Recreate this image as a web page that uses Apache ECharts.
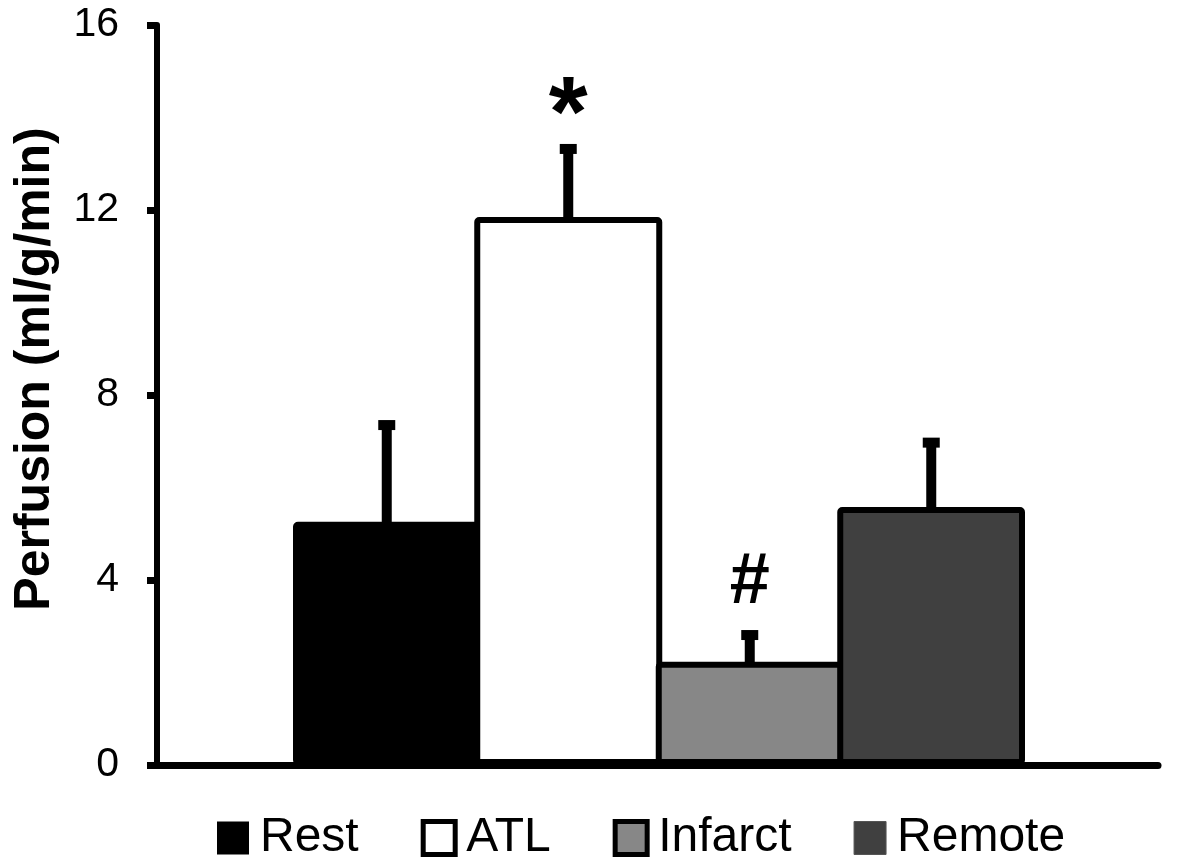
<!DOCTYPE html>
<html>
<head>
<meta charset="utf-8">
<script src="https://cdn.jsdelivr.net/npm/echarts@6/dist/echarts.min.js"></script>
<style>
html,body{margin:0;padding:0;background:#fff;}
#chart{width:1200px;height:857px;}
</style>
</head>
<body>
<div id="chart"></div>
<script>
// ---- data ----
const categories = ['Rest', 'ATL', 'Infarct', 'Remote'];
const means = [5.26, 11.85, 2.23, 5.58];
const errors = [2.09, 1.47, 0.58, 1.39];
const markers = ['', '*', '#', ''];
const yTicks = [0, 4, 8, 12, 16];
const yTitle = 'Perfusion (ml/g/min)';

// ---- styles ----
const fills = ['#000000', '#ffffff', '#878787', '#404040'];
const FONT = '"Liberation Sans", Arial, sans-serif';
const markerStyle = {
  '*': { size: 100, dy: 31 },
  '#': { size: 72, dy: 52 }
};

const chart = echarts.init(document.getElementById('chart'), null, { renderer: 'canvas' });

const barSeries = categories.map((name, i) => ({
  name: name,
  type: 'bar',
  xAxisIndex: 1,
  yAxisIndex: 1,
  stack: 'all',
  barWidth: 188,
  itemStyle: {
    color: fills[i],
    borderColor: '#000',
    borderWidth: 6,
    borderRadius: 2
  },
  emphasis: { disabled: true },
  data: categories.map((c, j) => (j === i ? means[i] : '-')),
  z: 2
}));

const errSeries = {
  type: 'custom',
  xAxisIndex: 1,
  yAxisIndex: 1,
  z: 5,
  silent: true,
  data: categories.map((c, i) => [i, means[i], errors[i], i]),
  renderItem: function (params, api) {
    const idx = api.value(0);
    const m = api.value(1);
    const e = api.value(2);
    const top = api.coord([idx, m + e]);
    const base = api.coord([idx, m]);
    const children = [
      { type: 'rect', shape: { x: top[0] - 5, y: top[1], width: 10, height: base[1] - top[1] + 3 }, style: { fill: '#000' } },
      { type: 'rect', shape: { x: top[0] - 8.5, y: top[1] - 5, width: 17, height: 10 }, style: { fill: '#000' } }
    ];
    const mk = markers[api.value(3)];
    if (mk) {
      const ms = markerStyle[mk];
      children.push({
        type: 'text',
        style: {
          text: mk,
          x: top[0],
          y: top[1] - ms.dy,
          align: 'center',
          verticalAlign: 'middle',
          fill: '#000',
          font: 'bold ' + ms.size + 'px ' + FONT
        }
      });
    }
    return { type: 'group', children: children };
  }
};

const legendData = [
  { name: 'Rest', itemStyle: { color: fills[0], borderColor: '#000', borderWidth: 0 } },
  { name: 'ATL', itemStyle: { color: fills[1], borderColor: '#000', borderWidth: 5 } },
  { name: 'Infarct', itemStyle: { color: fills[2], borderColor: '#000', borderWidth: 5 } },
  { name: 'Remote', itemStyle: { color: fills[3], borderColor: '#555', borderWidth: 1 } }
];

const option = {
  backgroundColor: '#ffffff',
  animation: false,
  textStyle: { fontFamily: FONT },
  legend: {
    data: legendData,
    left: 212,
    top: 809,
    icon: 'rect',
    itemWidth: 32,
    itemHeight: 33,
    itemGap: 62,
    selectedMode: false,
    textStyle: { fontSize: 48, color: '#000', fontFamily: FONT, padding: [0, 0, 0, 6] }
  },
  graphic: [{
    type: 'text',
    x: 35,
    y: 369,
    rotation: Math.PI / 2,
    style: {
      text: yTitle,
      align: 'center',
      verticalAlign: 'middle',
      fill: '#000',
      font: 'bold 50px ' + FONT
    }
  }],
  grid: [
    { left: 157, right: 42, top: 25, bottom: 92 },
    { left: 296, right: 178, top: 25, bottom: 92 }
  ],
  xAxis: [
    {
      gridIndex: 0, type: 'category', data: [''],
      axisLine: { lineStyle: { color: '#000', width: 7 } },
      axisTick: { show: false }, axisLabel: { show: false }
    },
    {
      gridIndex: 1, type: 'category', data: categories, boundaryGap: true,
      axisLine: { show: false }, axisTick: { show: false }, axisLabel: { show: false }
    }
  ],
  yAxis: [
    {
      gridIndex: 0, type: 'value', min: yTicks[0], max: yTicks[yTicks.length - 1], interval: 4,
      axisLine: { show: true, lineStyle: { color: '#000', width: 6 } },
      axisTick: { show: true, inside: false, length: 10, lineStyle: { color: '#000', width: 7 } },
      splitLine: { show: false },
      axisLabel: { color: '#000', fontSize: 41, fontFamily: FONT, margin: 38 }
    },
    {
      gridIndex: 1, type: 'value', min: yTicks[0], max: yTicks[yTicks.length - 1],
      show: false, splitLine: { show: false }
    }
  ],
  series: barSeries.concat([errSeries])
};

chart.setOption(option);
</script>
</body>
</html>
